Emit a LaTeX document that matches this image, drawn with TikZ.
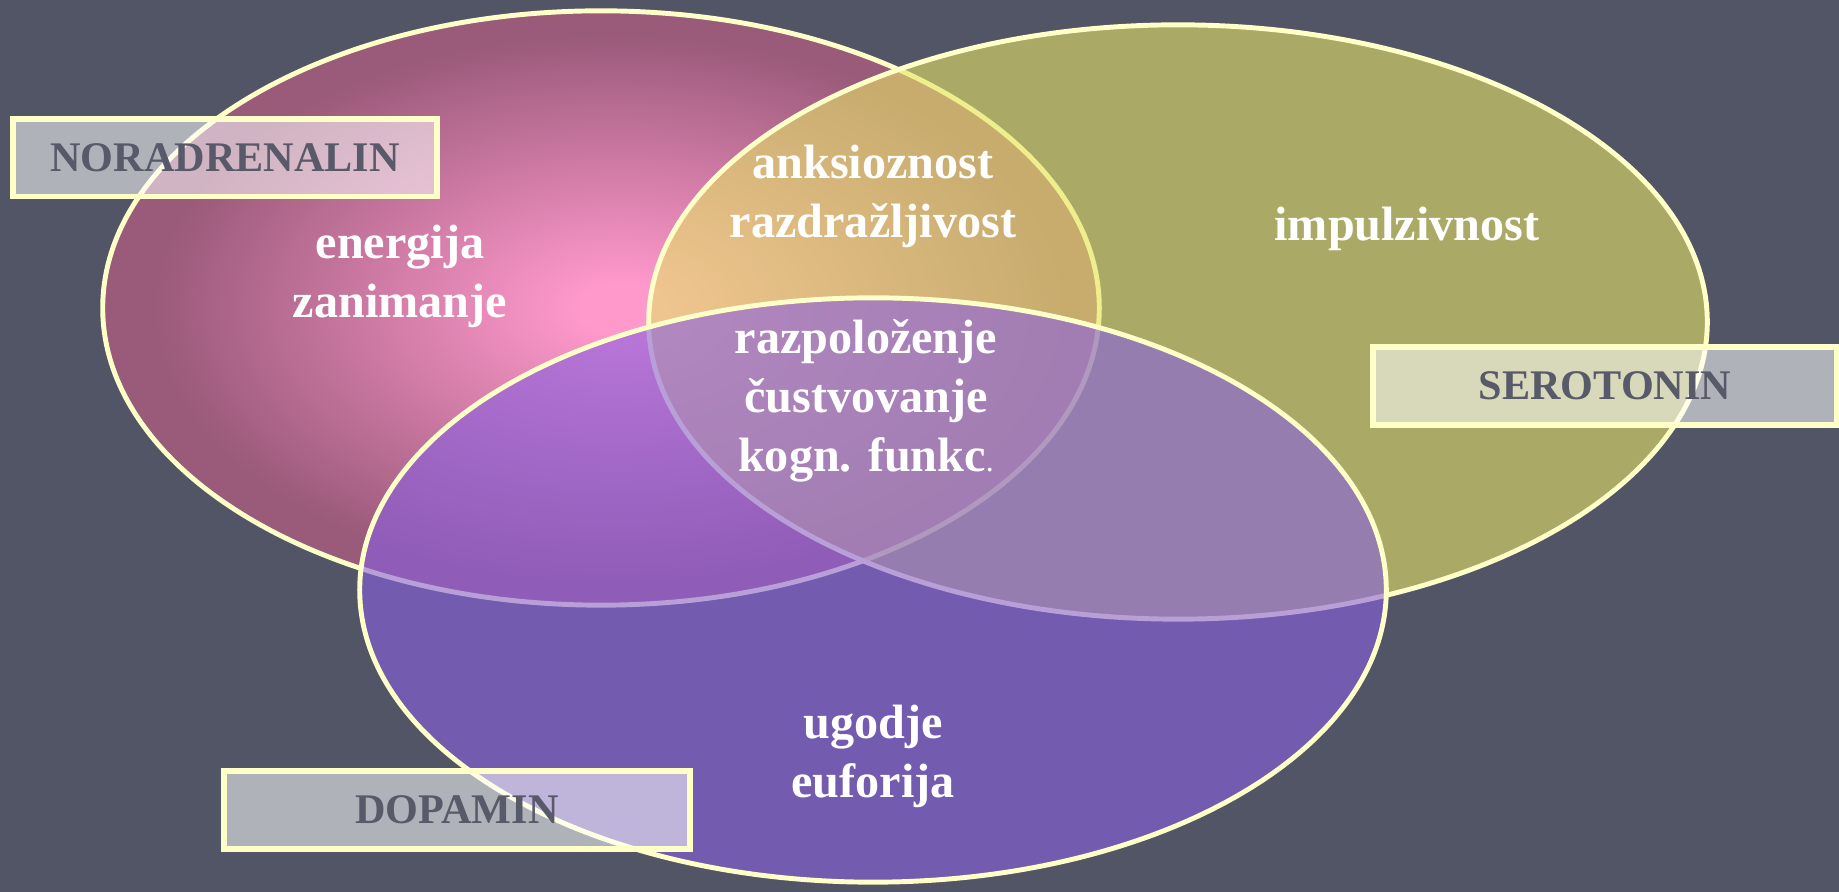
\documentclass[tikz,border=0pt]{standalone}
\usepackage{fontspec}
\setmainfont{Liberation Serif}
\usetikzlibrary{shapes.geometric}
\definecolor{bgslate}{RGB}{82,85,102}
\definecolor{rimyellow}{RGB}{255,255,200}
\definecolor{pinkhot}{RGB}{255,153,204}
\definecolor{pinkdark}{RGB}{154,90,122}
\definecolor{olivec}{RGB}{229,227,102}
\definecolor{violetc}{RGB}{137,95,225}
\definecolor{labelgray}{RGB}{88,90,106}
\pgfdeclareradialshading{pinkglow}{\pgfpoint{1bp}{0bp}}{color(0bp)=(pinkhot); color(2bp)=(pinkhot); color(23bp)=(pinkdark); color(50bp)=(pinkdark)}
\tikzset{
    ring/.style={ellipse, draw=rimyellow, line width=1.4pt, inner sep=0pt}
}
\tikzset{
    inner/.style={text=white, align=center, inner sep=0pt,
    	font=\fontsize{13.7}{16.8}\selectfont\bfseries}
}
\tikzset{
    labelbox/.style={draw=rimyellow, line width=1.7pt, fill=white,
    	fill opacity=.55, text opacity=1, text=labelgray, inner sep=0pt,
    	minimum height=.77cm, font=\fontsize{12}{14}\selectfont\bfseries}
}

\begin{document}
\begin{tikzpicture}[x=0.01cm, y=-0.01cm]
	\fill[bgslate] (0,0) rectangle (1839,892);
	\useasboundingbox (0,0) rectangle (1839,892);

	\node (nor) [ring, shading=pinkglow, minimum width=9.96cm, minimum height=5.94cm] at (601,308) {};
	\node (ser) [ring, fill=olivec, fill opacity=.6, minimum width=10.58cm, minimum height=5.94cm] at (1178,322) {};
	\node (dop) [ring, fill=violetc, fill opacity=.6, minimum width=10.26cm, minimum height=5.84cm] at (873,590) {};

	\node (energ) [inner] at (400,276) {energija\\zanimanje};
	\node (anks) [inner] at (873,196) {anksioznost\\razdražljivost};
	\node (impul) [inner] at (1407,229) {impulzivnost};
	\node (razp) [inner] at (866,401) {razpoloženje\\čustvovanje\\kogn. funkc{\mdseries\fontsize{9}{9}\selectfont .}};
	\node (ugod) [inner] at (873,756) {ugodje\\euforija};

	\node (lnor) [labelbox, minimum width=4.24cm] at (225,158) {NORADRENALIN};
	\node (lser) [labelbox, minimum width=4.64cm] at (1605,386) {SEROTONIN};
	\node (ldop) [labelbox, minimum width=4.66cm] at (457,810) {DOPAMIN};
\end{tikzpicture}
\end{document}
